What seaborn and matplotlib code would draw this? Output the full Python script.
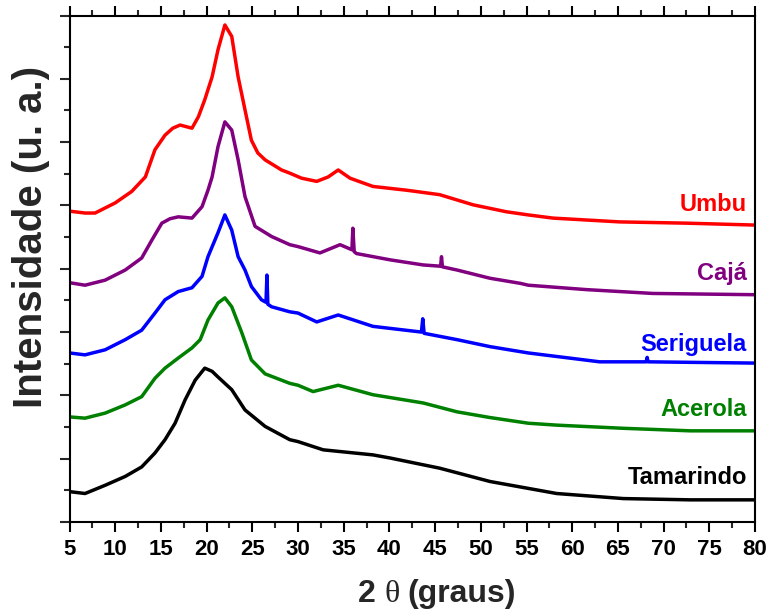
import matplotlib
matplotlib.use("Agg")
import matplotlib.pyplot as plt
from matplotlib.ticker import MultipleLocator, NullFormatter
import seaborn as sns
import pandas as pd

# Diffractogram traces (2-theta in degrees, intensity in arbitrary units, stacked)
umbu_2theta = [5.0, 6.7, 7.8, 10.0, 11.8, 13.3, 14.35, 15.45, 16.3, 17.1, 18.4, 19.1, 19.8,
               20.6, 21.25, 22.0, 22.75, 23.45, 24.2, 24.9, 25.6, 26.4, 28.2, 29.1, 30.4,
               32.05, 33.3, 34.4, 35.7, 38.2, 41.9, 45.5, 49.15, 52.8, 55.2, 57.9, 65.2,
               72.5, 80.0]
umbu_int = [4.91, 4.88, 4.88, 5.04, 5.22, 5.45, 5.88, 6.11, 6.22, 6.27, 6.22, 6.40, 6.67,
            7.03, 7.46, 7.85, 7.67, 7.03, 6.51, 6.03, 5.83, 5.72, 5.56, 5.51, 5.43,
            5.38, 5.45, 5.56, 5.43, 5.30, 5.24, 5.17, 5.01, 4.90, 4.85, 4.80, 4.74,
            4.72, 4.69]

caja_2theta = [5.0, 6.7, 8.9, 11.1, 12.9, 14.0, 15.1, 16.0, 16.9, 18.4, 19.5, 20.15, 20.6,
               21.25, 22.0, 22.75, 23.45, 24.2, 25.3, 27.1, 29.1, 30.0, 32.4, 34.6, 35.9,
               36.0, 36.15, 36.4, 40.1, 43.7, 45.6, 45.7, 45.8, 47.4, 51.0, 54.3, 55.2,
               61.6, 68.8, 80.0]
caja_int = [3.78, 3.74, 3.82, 3.98, 4.17, 4.45, 4.72, 4.79, 4.82, 4.80, 4.98, 5.24, 5.45,
            5.93, 6.32, 6.19, 5.72, 5.14, 4.67, 4.51, 4.38, 4.35, 4.25, 4.38, 4.30,
            4.64, 4.27, 4.24, 4.14, 4.06, 4.04, 4.19, 4.03, 3.98, 3.85, 3.77, 3.74,
            3.67, 3.61, 3.59]

seriguela_2theta = [5.0, 6.7, 8.9, 11.1, 12.9, 14.35, 15.45, 16.9, 18.4, 19.5, 20.15, 21.25,
                    22.0, 22.75, 23.45, 24.2, 24.9, 26.0, 26.5, 26.6, 26.7, 27.1, 29.1, 30.0,
                    32.05, 34.4, 38.2, 43.5, 43.65, 43.8, 47.4, 51.0, 55.2, 63.0, 68.1, 68.2,
                    68.3, 74.0, 80.0]
seriguela_int = [2.67, 2.64, 2.72, 2.88, 3.03, 3.30, 3.51, 3.64, 3.70, 3.88, 4.19, 4.57,
                 4.85, 4.61, 4.19, 3.98, 3.72, 3.51, 3.47, 3.90, 3.44, 3.40, 3.32, 3.30,
                 3.16, 3.27, 3.09, 3.00, 3.21, 2.98, 2.88, 2.77, 2.67, 2.53, 2.53, 2.60,
                 2.53, 2.52, 2.51]

acerola_2theta = [5.0, 6.7, 8.9, 11.1, 12.9, 14.35, 15.45, 16.9, 18.4, 19.3, 20.15,
                  21.25, 22.0, 22.75, 23.85, 24.9, 26.4, 29.1, 30.0, 31.65, 34.4, 38.2, 43.7,
                  47.4, 51.0, 55.2, 58.3, 65.6, 72.9, 80.0]
acerola_int = [1.66, 1.64, 1.72, 1.85, 1.98, 2.27, 2.43, 2.59, 2.75, 2.88, 3.19,
               3.46, 3.54, 3.40, 2.99, 2.56, 2.34, 2.19, 2.16, 2.06, 2.16, 2.01, 1.88,
               1.74, 1.65, 1.56, 1.53, 1.48, 1.44, 1.44]

tamarindo_2theta = [5.0, 6.7, 8.9, 11.1, 12.9, 14.35, 15.45, 16.55, 17.65, 18.75, 19.8,
                    20.6, 21.25, 22.75, 24.2, 26.4, 29.1, 30.0, 32.75, 38.2, 40.1, 45.5,
                    51.0, 58.3, 65.6, 72.9, 80.0]
tamarindo_int = [0.48, 0.45, 0.58, 0.72, 0.87, 1.09, 1.30, 1.56, 1.93, 2.24, 2.43,
                 2.38, 2.29, 2.09, 1.77, 1.51, 1.30, 1.27, 1.14, 1.06, 1.01, 0.85,
                 0.64, 0.45, 0.37, 0.35, 0.35]

sample_names = ["Umbu", "Cajá", "Seriguela", "Acerola", "Tamarindo"]
sample_colors = ["#ff0000", "#800080", "#0000ff", "#008000", "#000000"]
label_heights = [5.01, 3.93, 2.81, 1.77, 0.70]

x_ticks = list(range(5, 81, 5))

sns.set_theme(style="ticks")
plt.rcParams["font.family"] = ["Liberation Sans", "DejaVu Sans"]
plt.rcParams["font.weight"] = "bold"

fig = plt.figure(figsize=(7.72, 6.11), dpi=100)
ax = fig.add_axes([69.5 / 772, 1 - 522 / 611, (755 - 69.5) / 772, (522 - 15.5) / 611])

traces = [
    (umbu_2theta, umbu_int),
    (caja_2theta, caja_int),
    (seriguela_2theta, seriguela_int),
    (acerola_2theta, acerola_int),
    (tamarindo_2theta, tamarindo_int),
]

for (tx, ty), name, col, lh in zip(traces, sample_names, sample_colors, label_heights):
    df = pd.DataFrame({"2theta": tx, "I": ty})
    sns.lineplot(data=df, x="2theta", y="I", color=col, lw=2.5, ax=ax,
                 estimator=None, sort=False)
    ax.text(79.1, lh, name, color=col, ha="right", va="center",
            fontsize=17, fontweight="bold")

ax.set_xlim(5, 80)
ax.set_ylim(0, 8)
ax.set_xticks(x_ticks)
ax.set_xticklabels([str(t) for t in x_ticks])
ax.xaxis.set_minor_locator(MultipleLocator(2.5))
ax.yaxis.set_major_locator(MultipleLocator(1))
ax.yaxis.set_minor_locator(MultipleLocator(0.5))
ax.yaxis.set_major_formatter(NullFormatter())
ax.set_xlabel("")
ax.set_ylabel("")

for side in ["left", "bottom", "top", "right"]:
    ax.spines[side].set_linewidth(1.5)
    ax.spines[side].set_color("black")

ax.tick_params(axis="x", which="major", direction="out", length=7, width=1.5,
               labelsize=16, pad=5, top=True, colors="black")
ax.tick_params(axis="x", which="minor", direction="out", length=4, width=1.5, top=True)
ax.tick_params(axis="y", which="major", direction="out", length=7, width=1.5,
               left=True, right=False)
ax.tick_params(axis="y", which="minor", direction="out", length=4, width=1.5,
               left=True, right=False)
ax.tick_params(axis="x", which="both", labeltop=False)
for lab in ax.get_xticklabels():
    lab.set_fontweight("bold")

# Axis titles
fig.text(31 / 772, 1 - 236.5 / 611, "Intensidade (u. a.)", rotation=90,
         ha="center", va="center", fontsize=29, fontweight="bold")

t1 = fig.text(358 / 772, 1 - 602 / 611, "2", ha="left", va="baseline",
              fontsize=23, fontweight="bold")
t2 = ax.annotate("θ", xy=(1, 0), xycoords=t1, xytext=(6, 0), textcoords="offset points",
                 ha="left", va="bottom", fontsize=23, fontweight="normal",
                 family=["Liberation Serif", "DejaVu Serif"], annotation_clip=False)
ax.annotate("(graus)", xy=(1, 0), xycoords=t2, xytext=(6, 0), textcoords="offset points",
            ha="left", va="bottom", fontsize=23, fontweight="bold", annotation_clip=False)

fig.savefig("out.png", dpi=100)
